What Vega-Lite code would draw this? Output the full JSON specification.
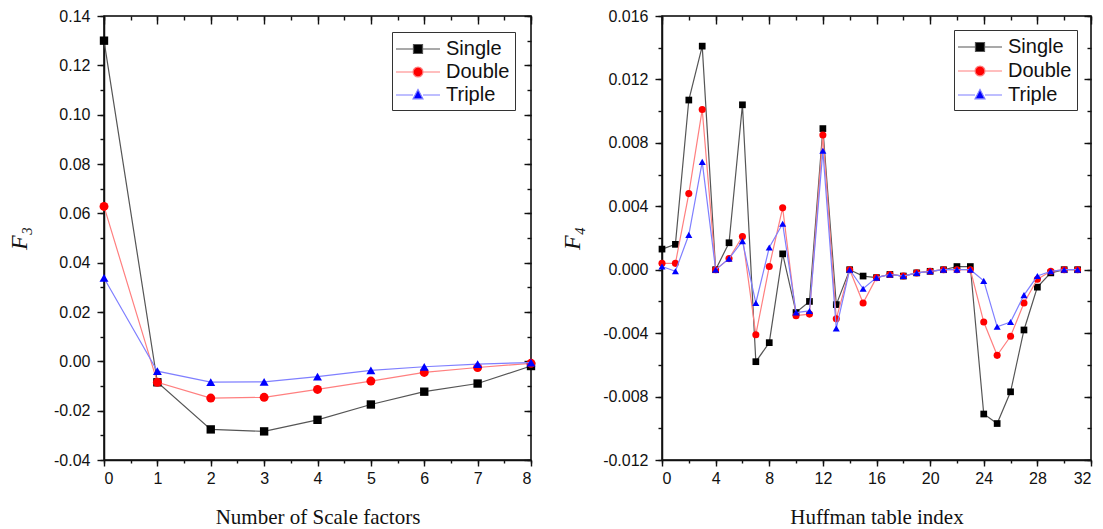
{
  "$schema": "https://vega.github.io/schema/vega-lite/v6.json",
  "padding": {"left": 6, "top": 7, "right": 5, "bottom": 5},
  "background": "white",
  "spacing": 22,
  "config": {
    "view": {"stroke": "black", "strokeWidth": 1.5},
    "axis": {"grid": false, "labelFont": "Liberation Sans", "labelFontSize": 16, "labelColor": "#111", "tickColor": "#111", "tickWidth": 1.4, "domainColor": "#111", "domainWidth": 1.5, "titleFont": "Liberation Serif", "titleFontWeight": "normal", "titleColor": "#111"}
  },
  "datasets": {
    "left": [
      {"i":0,"F":0.130,"s":"Single"},{"i":1,"F":-0.0085,"s":"Single"},{"i":2,"F":-0.0276,"s":"Single"},{"i":3,"F":-0.0284,"s":"Single"},{"i":4,"F":-0.0237,"s":"Single"},{"i":5,"F":-0.0175,"s":"Single"},{"i":6,"F":-0.0123,"s":"Single"},{"i":7,"F":-0.0090,"s":"Single"},{"i":8,"F":-0.0019,"s":"Single"},
      {"i":0,"F":0.0628,"s":"Double"},{"i":1,"F":-0.0085,"s":"Double"},{"i":2,"F":-0.0149,"s":"Double"},{"i":3,"F":-0.0146,"s":"Double"},{"i":4,"F":-0.0114,"s":"Double"},{"i":5,"F":-0.0080,"s":"Double"},{"i":6,"F":-0.0045,"s":"Double"},{"i":7,"F":-0.0025,"s":"Double"},{"i":8,"F":-0.0008,"s":"Double"},
      {"i":0,"F":0.0338,"s":"Triple"},{"i":1,"F":-0.0040,"s":"Triple"},{"i":2,"F":-0.0084,"s":"Triple"},{"i":3,"F":-0.0083,"s":"Triple"},{"i":4,"F":-0.0062,"s":"Triple"},{"i":5,"F":-0.0037,"s":"Triple"},{"i":6,"F":-0.0022,"s":"Triple"},{"i":7,"F":-0.0011,"s":"Triple"},{"i":8,"F":-0.0005,"s":"Triple"}
    ],
    "right": [
      {"i":0,"F":0.0013,"s":"Single"},{"i":1,"F":0.0016,"s":"Single"},{"i":2,"F":0.0107,"s":"Single"},{"i":3,"F":0.0141,"s":"Single"},{"i":4,"F":0.0,"s":"Single"},{"i":5,"F":0.0017,"s":"Single"},{"i":6,"F":0.0104,"s":"Single"},{"i":7,"F":-0.0058,"s":"Single"},{"i":8,"F":-0.0046,"s":"Single"},{"i":9,"F":0.0010,"s":"Single"},{"i":10,"F":-0.0027,"s":"Single"},{"i":11,"F":-0.0020,"s":"Single"},{"i":12,"F":0.0089,"s":"Single"},{"i":13,"F":-0.0022,"s":"Single"},{"i":14,"F":0.0,"s":"Single"},{"i":15,"F":-0.0004,"s":"Single"},{"i":16,"F":-0.0005,"s":"Single"},{"i":17,"F":-0.0003,"s":"Single"},{"i":18,"F":-0.0004,"s":"Single"},{"i":19,"F":-0.0002,"s":"Single"},{"i":20,"F":-0.0001,"s":"Single"},{"i":21,"F":0.0,"s":"Single"},{"i":22,"F":0.0002,"s":"Single"},{"i":23,"F":0.0002,"s":"Single"},{"i":24,"F":-0.0091,"s":"Single"},{"i":25,"F":-0.0097,"s":"Single"},{"i":26,"F":-0.0077,"s":"Single"},{"i":27,"F":-0.0038,"s":"Single"},{"i":28,"F":-0.0011,"s":"Single"},{"i":29,"F":-0.0002,"s":"Single"},{"i":30,"F":0.0,"s":"Single"},{"i":31,"F":0.0,"s":"Single"},
      {"i":0,"F":0.0004,"s":"Double"},{"i":1,"F":0.0004,"s":"Double"},{"i":2,"F":0.0048,"s":"Double"},{"i":3,"F":0.0101,"s":"Double"},{"i":4,"F":0.0,"s":"Double"},{"i":5,"F":0.0007,"s":"Double"},{"i":6,"F":0.0021,"s":"Double"},{"i":7,"F":-0.0041,"s":"Double"},{"i":8,"F":0.0002,"s":"Double"},{"i":9,"F":0.0039,"s":"Double"},{"i":10,"F":-0.0029,"s":"Double"},{"i":11,"F":-0.0028,"s":"Double"},{"i":12,"F":0.0085,"s":"Double"},{"i":13,"F":-0.0031,"s":"Double"},{"i":14,"F":0.0,"s":"Double"},{"i":15,"F":-0.0021,"s":"Double"},{"i":16,"F":-0.0005,"s":"Double"},{"i":17,"F":-0.0003,"s":"Double"},{"i":18,"F":-0.0004,"s":"Double"},{"i":19,"F":-0.0002,"s":"Double"},{"i":20,"F":-0.0001,"s":"Double"},{"i":21,"F":0.0,"s":"Double"},{"i":22,"F":0.0,"s":"Double"},{"i":23,"F":0.0,"s":"Double"},{"i":24,"F":-0.0033,"s":"Double"},{"i":25,"F":-0.0054,"s":"Double"},{"i":26,"F":-0.0042,"s":"Double"},{"i":27,"F":-0.0021,"s":"Double"},{"i":28,"F":-0.0006,"s":"Double"},{"i":29,"F":-0.0001,"s":"Double"},{"i":30,"F":0.0,"s":"Double"},{"i":31,"F":0.0,"s":"Double"},
      {"i":0,"F":0.0002,"s":"Triple"},{"i":1,"F":-0.0001,"s":"Triple"},{"i":2,"F":0.0022,"s":"Triple"},{"i":3,"F":0.0068,"s":"Triple"},{"i":4,"F":0.0,"s":"Triple"},{"i":5,"F":0.0007,"s":"Triple"},{"i":6,"F":0.0018,"s":"Triple"},{"i":7,"F":-0.0021,"s":"Triple"},{"i":8,"F":0.0014,"s":"Triple"},{"i":9,"F":0.0029,"s":"Triple"},{"i":10,"F":-0.0027,"s":"Triple"},{"i":11,"F":-0.0026,"s":"Triple"},{"i":12,"F":0.0075,"s":"Triple"},{"i":13,"F":-0.0037,"s":"Triple"},{"i":14,"F":0.0,"s":"Triple"},{"i":15,"F":-0.0012,"s":"Triple"},{"i":16,"F":-0.0005,"s":"Triple"},{"i":17,"F":-0.0003,"s":"Triple"},{"i":18,"F":-0.0004,"s":"Triple"},{"i":19,"F":-0.0002,"s":"Triple"},{"i":20,"F":-0.0001,"s":"Triple"},{"i":21,"F":0.0,"s":"Triple"},{"i":22,"F":0.0,"s":"Triple"},{"i":23,"F":0.0,"s":"Triple"},{"i":24,"F":-0.0007,"s":"Triple"},{"i":25,"F":-0.0036,"s":"Triple"},{"i":26,"F":-0.0033,"s":"Triple"},{"i":27,"F":-0.0016,"s":"Triple"},{"i":28,"F":-0.0004,"s":"Triple"},{"i":29,"F":-0.0001,"s":"Triple"},{"i":30,"F":0.0,"s":"Triple"},{"i":31,"F":0.0,"s":"Triple"}
    ]
  },
  "resolve": {"scale": {"fill": "independent", "stroke": "independent", "shape": "independent"}, "legend": {"fill": "independent", "stroke": "independent", "shape": "independent"}},
  "hconcat": [
    {
      "width": 427, "height": 444,
      "data": {"name": "left"},
      "resolve": {"axis": {"x": "independent", "y": "independent"}},
      "layer": [
        {"transform": [{"filter": "datum.s === 'Single'"}],
         "mark": {"type": "line", "color": "#555555", "strokeWidth": 1.2},
         "encoding": {
           "x": {"field": "i", "type": "quantitative", "scale": {"domain": [0, 8], "nice": false, "zero": false},
                 "axis": {"orient": "bottom", "values": [0,1,2,3,4,5,6,7,8], "format": "d", "tickSize": 6, "labelPadding": 4, "title": "Number of Scale factors", "titleFontSize": 21, "titlePadding": 20}},
           "y": {"field": "F", "type": "quantitative", "scale": {"domain": [-0.04, 0.14], "nice": false, "zero": false},
                 "axis": {"orient": "left", "values": [-0.04,-0.02,0,0.02,0.04,0.06,0.08,0.1,0.12,0.14], "labelExpr": "replace(format(datum.value, '.2f'), '\u2212', '-')", "tickSize": 7, "labelPadding": 7, "title": "F\u2083", "titleFontSize": 24, "titleFontStyle": "italic", "titlePadding": 22}}
         }},
        {"transform": [{"filter": "datum.s === 'Single'"}],
         "mark": {"type": "point", "shape": "square", "filled": true, "color": "black", "opacity": 1, "size": 70},
         "encoding": {
           "x": {"field": "i", "type": "quantitative", "axis": {"orient": "bottom", "values": [0,0.5,1,1.5,2,2.5,3,3.5,4,4.5,5,5.5,6,6.5,7,7.5,8], "tickSize": 3, "labels": false, "domain": false, "title": null}},
           "y": {"field": "F", "type": "quantitative", "axis": {"orient": "left", "values": [-0.04,-0.03,-0.02,-0.01,0,0.01,0.02,0.03,0.04,0.05,0.06,0.07,0.08,0.09,0.1,0.11,0.12,0.13,0.14], "tickSize": 4, "labels": false, "domain": false, "title": null}}
         }},
        {"transform": [{"filter": "datum.s === 'Double'"}],
         "mark": {"type": "line", "color": "#ff7f7f", "strokeWidth": 1.2},
         "encoding": {
           "x": {"field": "i", "type": "quantitative", "axis": {"orient": "top", "values": [0,1,2,3,4,5,6,7,8], "tickSize": -8, "labels": false, "domain": false, "title": null}},
           "y": {"field": "F", "type": "quantitative", "axis": {"orient": "right", "values": [-0.04,-0.02,0,0.02,0.04,0.06,0.08,0.1,0.12,0.14], "tickSize": -7, "labels": false, "domain": false, "title": null}}
         }},
        {"transform": [{"filter": "datum.s === 'Double'"}],
         "mark": {"type": "point", "shape": "circle", "filled": true, "color": "red", "opacity": 1, "size": 80},
         "encoding": {
           "x": {"field": "i", "type": "quantitative", "axis": {"orient": "top", "values": [0,0.5,1,1.5,2,2.5,3,3.5,4,4.5,5,5.5,6,6.5,7,7.5,8], "tickSize": -4, "labels": false, "domain": false, "title": null}},
           "y": {"field": "F", "type": "quantitative", "axis": {"orient": "right", "values": [-0.04,-0.03,-0.02,-0.01,0,0.01,0.02,0.03,0.04,0.05,0.06,0.07,0.08,0.09,0.1,0.11,0.12,0.13,0.14], "tickSize": -4, "labels": false, "domain": false, "title": null}}
         }},
        {"transform": [{"filter": "datum.s === 'Triple'"}],
         "mark": {"type": "line", "color": "#7f7fff", "strokeWidth": 1.2},
         "encoding": {
           "x": {"field": "i", "type": "quantitative", "axis": null},
           "y": {"field": "F", "type": "quantitative", "axis": null}
         }},
        {"transform": [{"filter": "datum.s === 'Triple'"}],
         "mark": {"type": "point", "shape": "triangle-up", "filled": true, "color": "blue", "opacity": 1, "size": 80},
         "encoding": {
           "x": {"field": "i", "type": "quantitative", "axis": null},
           "y": {"field": "F", "type": "quantitative", "axis": null}
         }},
        {"transform": [{"filter": "false"}],
         "mark": {"type": "point", "filled": true, "opacity": 1},
         "encoding": {
           "x": {"field": "i", "type": "quantitative", "axis": null},
           "y": {"field": "F", "type": "quantitative", "axis": null},
           "fill": {"field": "s", "type": "nominal", "scale": {"domain": ["Single","Double","Triple"], "range": ["black","red","blue"]},
                    "legend": {"title": null, "orient": "top-right", "offset": 16, "strokeColor": "#333", "fillColor": "white", "padding": 5, "labelFont": "Liberation Sans", "labelFontSize": 20, "labelColor": "#111", "symbolSize": 484, "symbolStrokeWidth": 1.2, "symbolOffset": 9, "rowPadding": 1, "labelOffset": 16}},
           "stroke": {"field": "s", "type": "nominal", "scale": {"domain": ["Single","Double","Triple"], "range": ["#555555","#ff7f7f","#7f7fff"]}, "legend": {"title": null}},
           "shape": {"field": "s", "type": "nominal", "scale": {"domain": ["Single","Double","Triple"], "range": ["M-2,0H-0.41M0.41,0H2M-0.41,-0.41H0.41V0.41H-0.41Z", "M-2,0H-0.45M0.45,0H2M-0.45,0A0.45,0.45,0,1,0,0.45,0A0.45,0.45,0,1,0,-0.45,0Z", "M-2,0H-0.45M0.45,0H2M0,-0.5L0.45,0.35L-0.45,0.35Z"]}, "legend": {"title": null}}
         }}
      ]
    },
    {
      "width": 429, "height": 444,
      "data": {"name": "right"},
      "resolve": {"axis": {"x": "independent", "y": "independent"}},
      "layer": [
        {"transform": [{"filter": "datum.s === 'Single'"}],
         "mark": {"type": "line", "color": "#555555", "strokeWidth": 1.2},
         "encoding": {
           "x": {"field": "i", "type": "quantitative", "scale": {"domain": [0, 32], "nice": false, "zero": false},
                 "axis": {"orient": "bottom", "values": [0,4,8,12,16,20,24,28,32], "format": "d", "tickSize": 6, "labelPadding": 4, "title": "Huffman table index", "titleFontSize": 21, "titlePadding": 20}},
           "y": {"field": "F", "type": "quantitative", "scale": {"domain": [-0.012, 0.016], "nice": false, "zero": false},
                 "axis": {"orient": "left", "values": [-0.012,-0.008,-0.004,0,0.004,0.008,0.012,0.016], "labelExpr": "replace(format(datum.value, '.3f'), '\u2212', '-')", "tickSize": 7, "labelPadding": 7, "title": "F\u2084", "titleFontSize": 24, "titleFontStyle": "italic", "titlePadding": 18}}
         }},
        {"transform": [{"filter": "datum.s === 'Single'"}],
         "mark": {"type": "point", "shape": "square", "filled": true, "color": "black", "opacity": 1, "size": 45},
         "encoding": {
           "x": {"field": "i", "type": "quantitative", "axis": {"orient": "bottom", "values": [0,2,4,6,8,10,12,14,16,18,20,22,24,26,28,30,32], "tickSize": 3, "labels": false, "domain": false, "title": null}},
           "y": {"field": "F", "type": "quantitative", "axis": {"orient": "left", "values": [-0.012,-0.01,-0.008,-0.006,-0.004,-0.002,0,0.002,0.004,0.006,0.008,0.01,0.012,0.014,0.016], "tickSize": 4, "labels": false, "domain": false, "title": null}}
         }},
        {"transform": [{"filter": "datum.s === 'Double'"}],
         "mark": {"type": "line", "color": "#ff7f7f", "strokeWidth": 1.2},
         "encoding": {
           "x": {"field": "i", "type": "quantitative", "axis": {"orient": "top", "values": [0,4,8,12,16,20,24,28,32], "tickSize": -8, "labels": false, "domain": false, "title": null}},
           "y": {"field": "F", "type": "quantitative", "axis": {"orient": "right", "values": [-0.012,-0.008,-0.004,0,0.004,0.008,0.012,0.016], "tickSize": -7, "labels": false, "domain": false, "title": null}}
         }},
        {"transform": [{"filter": "datum.s === 'Double'"}],
         "mark": {"type": "point", "shape": "circle", "filled": true, "color": "red", "opacity": 1, "size": 50},
         "encoding": {
           "x": {"field": "i", "type": "quantitative", "axis": {"orient": "top", "values": [0,2,4,6,8,10,12,14,16,18,20,22,24,26,28,30,32], "tickSize": -4, "labels": false, "domain": false, "title": null}},
           "y": {"field": "F", "type": "quantitative", "axis": {"orient": "right", "values": [-0.012,-0.01,-0.008,-0.006,-0.004,-0.002,0,0.002,0.004,0.006,0.008,0.01,0.012,0.014,0.016], "tickSize": -4, "labels": false, "domain": false, "title": null}}
         }},
        {"transform": [{"filter": "datum.s === 'Triple'"}],
         "mark": {"type": "line", "color": "#7f7fff", "strokeWidth": 1.2},
         "encoding": {
           "x": {"field": "i", "type": "quantitative", "axis": null},
           "y": {"field": "F", "type": "quantitative", "axis": null}
         }},
        {"transform": [{"filter": "datum.s === 'Triple'"}],
         "mark": {"type": "point", "shape": "triangle-up", "filled": true, "color": "blue", "opacity": 1, "size": 50},
         "encoding": {
           "x": {"field": "i", "type": "quantitative", "axis": null},
           "y": {"field": "F", "type": "quantitative", "axis": null}
         }},
        {"transform": [{"filter": "false"}],
         "mark": {"type": "point", "filled": true, "opacity": 1},
         "encoding": {
           "x": {"field": "i", "type": "quantitative", "axis": null},
           "y": {"field": "F", "type": "quantitative", "axis": null},
           "fill": {"field": "s", "type": "nominal", "scale": {"domain": ["Single","Double","Triple"], "range": ["black","red","blue"]},
                    "legend": {"title": null, "orient": "top-right", "offset": 14, "strokeColor": "#333", "fillColor": "white", "padding": 5, "labelFont": "Liberation Sans", "labelFontSize": 20, "labelColor": "#111", "symbolSize": 484, "symbolStrokeWidth": 1.2, "symbolOffset": 9, "rowPadding": 2, "labelOffset": 16}},
           "stroke": {"field": "s", "type": "nominal", "scale": {"domain": ["Single","Double","Triple"], "range": ["#555555","#ff7f7f","#7f7fff"]}, "legend": {"title": null}},
           "shape": {"field": "s", "type": "nominal", "scale": {"domain": ["Single","Double","Triple"], "range": ["M-2,0H-0.41M0.41,0H2M-0.41,-0.41H0.41V0.41H-0.41Z", "M-2,0H-0.45M0.45,0H2M-0.45,0A0.45,0.45,0,1,0,0.45,0A0.45,0.45,0,1,0,-0.45,0Z", "M-2,0H-0.45M0.45,0H2M0,-0.5L0.45,0.35L-0.45,0.35Z"]}, "legend": {"title": null}}
         }}
      ]
    }
  ]
}
